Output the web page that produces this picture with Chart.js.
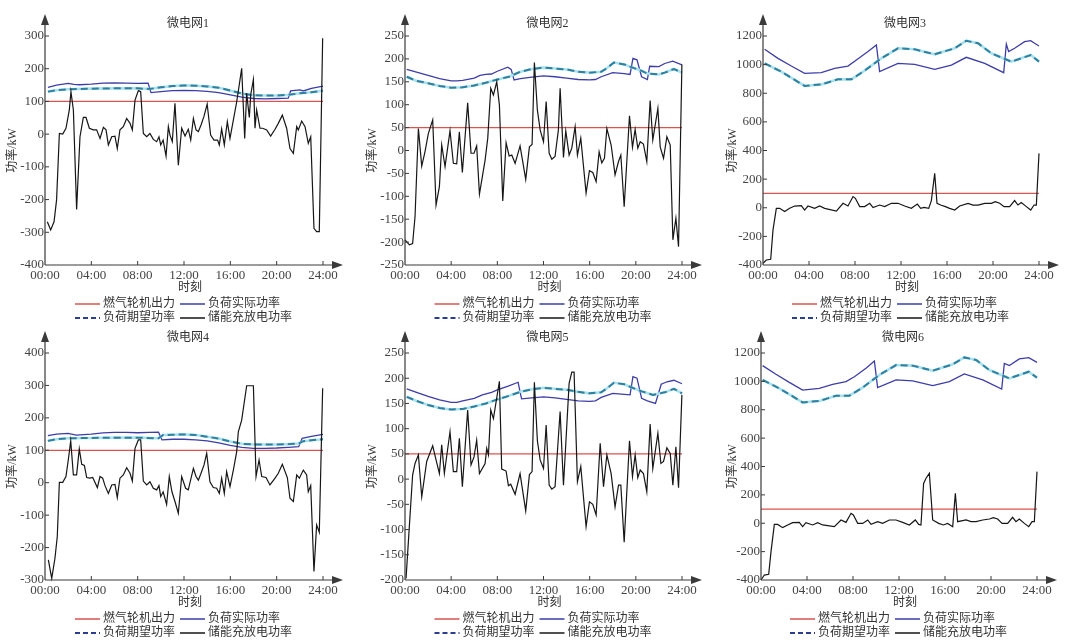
<!DOCTYPE html>
<html>
<head>
<meta charset="utf-8">
<script src="https://cdn.jsdelivr.net/npm/chart.js@4"></script>
<style>
html, body { margin: 0; padding: 0; background: #fff; }
#wrap { position: relative; width: 1080px; height: 644px; overflow: hidden; }
#wrap canvas { position: absolute; }
</style>
</head>
<body>
<div id="wrap"></div>
<script>
// [hour, kW] pairs
const legendNames = ['燃气轮机出力', '负荷实际功率', '负荷期望功率', '储能充放电功率'];
const xTicks = [0, 4, 8, 12, 16, 20, 24];

const gas1 = [[0, 100], [24, 100]];
const gas2 = [[0, 50], [24, 50]];
const gas3 = [[0, 100], [24, 100]];
const gas4 = [[0, 100], [24, 100]];
const gas5 = [[0, 50], [24, 50]];
const gas6 = [[0, 100], [24, 100]];

const load1 = [[0.25,143],[1,150],[2,155],[2.5,152],[3,151],[4,153],[5,156],[6,157],[7,156],[8,155],[8.9,156],[9.15,127],[10,130],[11,133],[12,134],[13,133],[14,131],[15,127],[16,120],[17,113],[18,109],[19,108],[20,109],[21,110],[21.2,132],[22,135],[22.3,132],[23,140],[24,147]];
const exp1 = [[0.25,130],[1,134],[2,137],[4,139],[6,140],[8,140],[9,138],[10,143],[11,147],[12,149],[13,148],[14,146],[15,142],[16,133],[17,124],[18,119],[19,118],[20,118],[21,120],[22,125],[23,128],[24,133]];
const ess1 = [[0.2,-268],[0.49,-293],[0.78,-268],[1.0,-201],[1.24,2],[1.53,0],[1.81,18],[2.1,74],[2.24,130],[2.45,74],[2.73,-230],[3.02,-8],[3.31,51],[3.54,51],[3.83,18],[4.17,13],[4.46,13],[4.75,-13],[5.04,21],[5.27,13],[5.47,-33],[5.76,-8],[6.04,-6],[6.24,-44],[6.47,13],[6.76,23],[7.05,48],[7.34,33],[7.54,13],[7.77,104],[8.06,133],[8.26,130],[8.49,2],[8.78,-8],[9.06,2],[9.35,-16],[9.64,-23],[9.84,-8],[9.99,-33],[10.2,-18],[10.45,-67],[10.65,23],[10.79,-3],[10.99,-23],[11.22,94],[11.51,-95],[11.8,18],[12.09,-6],[12.37,15],[12.58,-18],[12.81,48],[13.04,13],[13.24,8],[13.47,28],[13.73,55],[14.0,92],[14.3,-3],[14.59,-18],[14.9,-18],[15.05,-33],[15.25,16],[15.48,-33],[15.74,38],[15.97,-13],[16.26,43],[16.55,99],[16.83,165],[16.98,201],[17.24,-13],[17.41,125],[17.64,51],[17.76,120],[17.99,167],[18.13,18],[18.27,74],[18.56,18],[18.79,18],[19.14,13],[19.48,-6],[19.86,15],[20.14,33],[20.49,58],[20.86,18],[21.15,-44],[21.44,-59],[21.73,23],[21.87,13],[22.16,40],[22.45,23],[22.73,-28],[22.94,-8],[23.22,-288],[23.45,-298],[23.68,-298],[23.97,293]];

const load2 = [[0.15,177],[1,171],[2,164],[3,157],[4,152],[4.5,152],[5,153],[6,158],[6.5,164],[7,166],[7.5,167],[8,173],[8.9,182],[9.2,177],[9.45,154],[10,157],[11,160],[12,163],[13,161],[14,158],[15,155],[16,154],[16.5,155],[17,161],[18,170],[19,168],[19.5,166],[19.75,201],[20.1,198],[20.5,161],[21,155],[21.2,184],[22,183],[22.5,190],[23.2,195],[24,187]];
const exp2 = [[0.15,161],[1,152],[2,147],[3,141],[4,137],[5,138],[6,142],[7,148],[8,155],[9,161],[10,172],[11,178],[12,181],[13,179],[14,177],[15,172],[16,170],[17,172],[17.5,180],[18.1,192],[19,188],[19.5,183],[20.5,174],[21,168],[22,166],[22.5,170],[23.3,178],[24,170]];
const ess2 = [[0.0,-195],[0.38,-206],[0.66,-203],[0.87,-144],[1.16,48],[1.45,-34],[1.73,-3],[2.02,37],[2.4,67],[2.69,-119],[2.98,-79],[3.18,12],[3.47,-35],[3.9,43],[4.19,-28],[4.48,-29],[4.71,41],[4.97,-48],[5.43,104],[5.72,-6],[5.98,-6],[6.21,10],[6.45,-95],[6.94,-21],[7.17,27],[7.43,136],[7.66,121],[7.95,150],[8.18,99],[8.47,-110],[8.76,17],[9.02,-12],[9.25,-10],[9.54,-28],[9.97,10],[10.46,-63],[10.78,8],[11.01,13],[11.21,192],[11.47,88],[11.71,45],[12.0,19],[12.23,107],[12.49,-6],[12.72,-19],[13.0,-13],[13.29,45],[13.44,136],[13.73,-15],[13.93,43],[14.22,-10],[14.45,5],[14.74,52],[14.94,-10],[15.23,27],[15.69,-93],[15.98,-44],[16.27,-48],[16.56,-68],[16.82,-3],[17.05,-27],[17.28,-17],[17.49,48],[17.86,12],[18.2,-53],[18.5,-24],[18.7,-10],[18.99,-123],[19.45,76],[19.71,7],[19.94,46],[20.17,5],[20.38,19],[20.66,14],[20.95,-24],[21.24,109],[21.47,23],[21.91,92],[22.11,8],[22.4,-17],[22.69,30],[22.98,12],[23.21,-195],[23.47,-148],[23.7,-210],[23.99,188]];

const load3 = [[0.14,1107],[1.3,1044],[2.46,990],[3.62,939],[5.07,944],[6.23,974],[7.39,990],[8.12,1032],[9.13,1091],[9.86,1137],[10.14,951],[11.74,1009],[13.19,1002],[14.93,967],[16.38,997],[17.68,1051],[19.28,1009],[20.93,944],[21.16,1144],[21.36,1091],[21.88,1114],[22.75,1160],[23.28,1167],[23.62,1149],[24,1130]];
const exp3 = [[0.14,1009],[1.59,951],[3.62,851],[5.07,862],[6.52,897],[7.68,897],[8.84,958],[10.29,1044],[11.74,1114],[13.19,1107],[14.93,1072],[16.67,1114],[17.68,1167],[18.7,1149],[19.86,1079],[21.59,1021],[22.46,1044],[23.28,1067],[24,1021]];
const ess3 = [[0.0,-388],[0.29,-365],[0.67,-360],[0.87,-155],[1.16,-4],[1.45,-4],[1.88,-27],[2.32,-4],[2.75,12],[3.33,15],[3.62,-16],[3.91,12],[4.49,-4],[4.93,12],[5.36,-4],[6.38,-23],[6.96,31],[7.39,12],[7.83,78],[8.03,66],[8.41,8],[8.84,8],[9.28,31],[9.57,1],[10.14,19],[10.58,8],[11.16,31],[11.74,31],[12.32,12],[12.9,-4],[13.42,26],[13.71,-4],[14.0,3],[14.41,-4],[14.64,50],[14.93,240],[15.13,31],[15.45,19],[15.86,8],[16.23,-4],[16.67,-16],[17.1,12],[17.83,31],[18.26,19],[18.7,19],[19.28,31],[19.86,31],[20.2,43],[20.58,31],[20.96,8],[21.45,8],[21.88,50],[22.17,19],[22.46,36],[22.9,8],[23.28,-16],[23.57,19],[23.77,19],[24.0,380]];

const load4 = [[0.25,145],[1,150],[2,152],[2.7,147],[4,150],[5,154],[6,155],[7,155],[8,154],[9,155],[9.8,156],[10.1,132],[11,134],[12,134],[13,132],[14,129],[15,123],[16,115],[17,109],[18,106],[19,106],[20,107],[21,109],[21.9,111],[22.2,137],[23,143],[24,149]];
const exp4 = [[0.25,129],[1,134],[2,137],[4,138],[6,139],[8,139],[9.8,137],[10.2,147],[11,148],[12,149],[13,147],[14,142],[15,136],[16,127],[17,120],[18,118],[19,118],[20,118],[21,119],[21.9,121],[22.3,128],[23,131],[24,134]];
const ess4 = [[0.29,-238],[0.58,-295],[0.86,-233],[1.06,-166],[1.24,1],[1.53,1],[1.81,19],[2.01,70],[2.22,129],[2.45,24],[2.73,24],[2.96,104],[3.17,57],[3.4,53],[3.6,16],[3.88,14],[4.12,16],[4.32,1],[4.52,-15],[4.75,19],[4.98,14],[5.18,-9],[5.47,-33],[5.76,-7],[6.04,-5],[6.24,-46],[6.47,14],[6.76,24],[7.05,46],[7.34,29],[7.54,5],[7.77,106],[8.06,132],[8.26,132],[8.49,5],[8.78,-7],[9.06,3],[9.35,-17],[9.64,-22],[9.84,-9],[9.99,-43],[10.2,-28],[10.5,-67],[10.73,19],[10.96,-28],[11.22,-58],[11.51,-94],[11.8,19],[12.14,-17],[12.37,-22],[12.81,44],[13.04,19],[13.24,8],[13.47,29],[13.73,55],[13.96,91],[14.24,3],[14.53,-15],[14.82,-17],[15.05,-33],[15.25,14],[15.48,-33],[15.68,34],[15.97,-12],[16.26,39],[16.55,96],[16.69,157],[16.98,193],[17.41,299],[17.99,299],[18.22,19],[18.48,70],[18.71,19],[19.08,16],[19.42,-7],[19.86,14],[20.14,29],[20.49,57],[20.92,16],[21.15,-48],[21.44,-58],[21.73,24],[21.96,14],[22.3,39],[22.59,24],[22.73,-28],[22.94,-9],[23.22,-274],[23.45,-130],[23.68,-153],[23.97,291]];

const load5 = [[0.15,179],[1,172],[2,164],[3,157],[4,152],[4.5,152],[5,155],[6,160],[6.7,167],[7.5,172],[8,177],[9,185],[9.8,192],[10.1,159],[11,161],[12,163],[13,161],[14,158],[15,155],[16,154],[16.5,155],[17,162],[18,170],[19,168],[19.5,167],[19.75,203],[20.1,200],[20.5,160],[21,155],[21.7,150],[22.2,188],[22.7,193],[23.3,196],[24,189]];
const exp5 = [[0.15,163],[1,155],[2,147],[3,141],[4,138],[5,139],[6,144],[7,150],[8,158],[9,165],[10,173],[11,178],[12,181],[13,179],[14,177],[15,173],[16,170],[17,172],[17.5,180],[18.1,191],[19,188],[19.5,183],[20.5,174],[21.5,167],[22.5,172],[23.3,179],[24,170]];
const ess5 = [[0.09,-197],[0.66,8],[0.87,31],[1.16,48],[1.45,-35],[1.88,35],[2.4,66],[2.69,38],[2.98,11],[3.18,68],[3.41,11],[3.9,94],[4.19,15],[4.48,15],[4.71,81],[4.97,-15],[5.43,137],[5.72,28],[5.98,44],[6.21,77],[6.45,11],[6.94,31],[7.08,61],[7.23,48],[7.43,137],[7.66,120],[8.18,194],[8.38,20],[8.76,16],[8.96,-13],[9.16,-10],[9.54,-30],[9.97,11],[10.46,-63],[10.78,9],[11.01,15],[11.21,192],[11.47,76],[11.71,38],[12.0,21],[12.23,107],[12.49,-12],[12.72,-20],[13.0,-15],[13.44,134],[13.73,-12],[13.93,69],[14.22,190],[14.45,212],[14.65,212],[14.94,-5],[15.23,25],[15.69,-94],[15.98,-45],[16.27,-50],[16.56,-71],[16.91,71],[17.2,-15],[17.49,48],[17.86,11],[18.2,-55],[18.5,-12],[18.7,-12],[18.99,-125],[19.45,76],[19.71,5],[19.94,48],[20.17,3],[20.38,18],[20.66,11],[20.95,-25],[21.24,109],[21.47,21],[21.91,91],[22.17,31],[22.4,35],[22.69,62],[22.98,51],[23.21,-12],[23.47,64],[23.7,-17],[23.99,167]];

const load6 = [[0.14,1111],[1.3,1050],[2.46,993],[3.62,939],[5.07,951],[6.23,979],[7.39,998],[8.12,1033],[9.13,1092],[9.86,1144],[10.14,956],[11.74,1010],[13.19,1003],[14.93,970],[16.38,998],[17.68,1052],[19.28,1010],[20.93,946],[21.16,1127],[21.6,1111],[22.46,1158],[23.28,1167],[24,1134]];
const exp6 = [[0.14,1010],[1.59,951],[3.62,852],[5.07,862],[6.52,899],[7.68,899],[8.84,956],[10.29,1045],[11.74,1115],[13.19,1111],[14.93,1075],[16.67,1120],[17.68,1169],[18.7,1151],[19.86,1080],[21.59,1021],[22.46,1045],[23.28,1068],[24,1026]];
const ess6 = [[0.0,-400],[0.29,-365],[0.67,-360],[0.87,-200],[1.16,-8],[1.45,-8],[1.88,-31],[2.32,-12],[2.75,4],[3.33,6],[3.62,-24],[3.91,4],[4.49,-12],[4.93,4],[5.36,-12],[6.38,-24],[6.96,23],[7.39,6],[7.83,70],[8.03,58],[8.41,-1],[8.84,-1],[9.28,23],[9.57,-8],[10.14,11],[10.58,-1],[11.16,23],[11.74,23],[12.32,6],[12.9,-12],[13.42,23],[13.71,-8],[13.91,-12],[14.14,281],[14.35,317],[14.64,352],[14.93,23],[15.45,-1],[15.86,-12],[16.23,-1],[16.67,-24],[16.9,211],[17.1,11],[17.83,23],[18.26,11],[18.7,11],[19.28,23],[19.86,30],[20.2,39],[20.58,30],[20.96,-1],[21.45,-1],[21.88,42],[22.17,11],[22.46,30],[22.9,-1],[23.28,-24],[23.57,11],[23.77,11],[24.0,364]];

// panel frames (pixels) and axis ranges
const panels = [
    { name: '微电网1', x0: 0,   y0: 0,   h: 330, left: 45, right: 323, top: 36, bottom: 265, titleY: 24, yMin: -400, yMax: 300,  yStep: 100, gas: gas1, load: load1, exp: exp1, ess: ess1 },
    { name: '微电网2', x0: 360, y0: 0,   h: 330, left: 45, right: 322, top: 36, bottom: 265, titleY: 24, yMin: -250, yMax: 250,  yStep: 50,  gas: gas2, load: load2, exp: exp2, ess: ess2 },
    { name: '微电网3', x0: 720, y0: 0,   h: 330, left: 43, right: 319, top: 36, bottom: 265, titleY: 24, yMin: -400, yMax: 1200, yStep: 200, gas: gas3, load: load3, exp: exp3, ess: ess3 },
    { name: '微电网4', x0: 0,   y0: 330, h: 314, left: 45, right: 323, top: 23, bottom: 250, titleY: 8,  yMin: -300, yMax: 400,  yStep: 100, gas: gas4, load: load4, exp: exp4, ess: ess4 },
    { name: '微电网5', x0: 360, y0: 330, h: 314, left: 45, right: 322, top: 23, bottom: 250, titleY: 8,  yMin: -200, yMax: 250,  yStep: 50,  gas: gas5, load: load5, exp: exp5, ess: ess5 },
    { name: '微电网6', x0: 720, y0: 330, h: 314, left: 41, right: 317, top: 23, bottom: 250, titleY: 8,  yMin: -400, yMax: 1200, yStep: 200, gas: gas6, load: load6, exp: exp6, ess: ess6 }
];

const FONT = '"Liberation Serif", "Noto Sans CJK SC", serif';
Chart.defaults.font.family = FONT;

const RED = '#d9534f', BLUE = '#3d3da8', NAVY = '#2c3f8e', TEAL = '#2f7f9f', CYAN = '#a6e2f0', BLACK = '#161616';

const toXY = arr => arr.map(([x, y]) => ({ x, y }));
const hhmm = v => String(v).padStart(2, '0') + ':00';

function decor(p) {
    return {
        id: 'decor',
        afterDraw(chart) {
            const ctx = chart.ctx, a = chart.chartArea;
            const ys = chart.scales.y, xs = chart.scales.x;
            ctx.save();
            ctx.strokeStyle = '#3a3a3a';
            ctx.fillStyle = '#3a3a3a';
            ctx.lineWidth = 1.2;

            // axes with arrows
            ctx.beginPath();
            ctx.moveTo(a.left, a.bottom); ctx.lineTo(a.left, a.top - 14);
            ctx.moveTo(a.left, a.bottom); ctx.lineTo(a.right + 12, a.bottom);
            ctx.stroke();
            ctx.beginPath();
            ctx.moveTo(a.left, a.top - 22); ctx.lineTo(a.left - 4, a.top - 11); ctx.lineTo(a.left + 4, a.top - 11); ctx.closePath();
            ctx.moveTo(a.right + 20, a.bottom); ctx.lineTo(a.right + 9, a.bottom - 4); ctx.lineTo(a.right + 9, a.bottom + 4); ctx.closePath();
            ctx.fill();

            // inward ticks
            ctx.lineWidth = 1;
            ctx.beginPath();
            for (let v = p.yMin + p.yStep; v <= p.yMax; v += p.yStep) {
                const y = ys.getPixelForValue(v);
                ctx.moveTo(a.left, y); ctx.lineTo(a.left + 4, y);
            }
            xTicks.slice(1).forEach(t => {
                const x = xs.getPixelForValue(t);
                ctx.moveTo(x, a.bottom); ctx.lineTo(x, a.bottom - 4);
            });
            ctx.stroke();

            // texts
            const cx = (a.left + a.right) / 2;
            ctx.fillStyle = '#333';
            ctx.font = '12px ' + FONT;
            ctx.textBaseline = 'middle';
            ctx.textAlign = 'center';
            ctx.fillText(p.name, cx + 4, p.titleY);
            ctx.fillText('时刻', cx + 6, a.bottom + 23);
            ctx.save();
            ctx.translate(13, (a.top + a.bottom) / 2);
            ctx.rotate(-Math.PI / 2);
            ctx.fillText('功率/kW', 0, 0);
            ctx.restore();

            // legend, two columns
            const items = [
                [legendNames[0], RED, []],
                [legendNames[1], BLUE, []],
                [legendNames[2], NAVY, [5, 3]],
                [legendNames[3], BLACK, []]
            ];
            ctx.textAlign = 'left';
            items.forEach(([txt, col, dash], i) => {
                const x0 = cx + (i % 2 === 0 ? -109 : -4);
                const y = a.bottom + (i < 2 ? 39 : 53);
                ctx.strokeStyle = col;
                ctx.lineWidth = dash.length ? 2 : 1.5;
                ctx.setLineDash(dash);
                ctx.beginPath();
                ctx.moveTo(x0, y); ctx.lineTo(x0 + 25, y);
                ctx.stroke();
                ctx.setLineDash([]);
                ctx.fillStyle = '#333';
                ctx.fillText(txt, x0 + 28, y);
            });
            ctx.restore();
        }
    };
}

const wrap = document.getElementById('wrap');

panels.forEach(p => {
    const cv = document.createElement('canvas');
    cv.width = 360; cv.height = p.h;
    cv.style.left = p.x0 + 'px'; cv.style.top = p.y0 + 'px';
    cv.style.width = '360px'; cv.style.height = p.h + 'px';
    wrap.appendChild(cv);

    const line = { pointRadius: 0, tension: 0, fill: false, clip: false };
    new Chart(cv, {
        type: 'line',
        data: {
            datasets: [
                { ...line, data: toXY(p.ess), borderColor: BLACK, borderWidth: 1.2, order: 0 },
                { ...line, data: toXY(p.exp), borderColor: TEAL, borderWidth: 2, borderDash: [7, 4], order: 1 },
                { ...line, data: toXY(p.exp), borderColor: CYAN, borderWidth: 2.6, order: 2 },
                { ...line, data: toXY(p.load), borderColor: BLUE, borderWidth: 1.3, order: 3 },
                { ...line, data: toXY(p.gas), borderColor: RED, borderWidth: 1.3, order: 4 }
            ]
        },
        options: {
            responsive: false,
            animation: false,
            devicePixelRatio: 1,
            layout: { padding: { left: 0, top: p.top, right: 360 - p.right, bottom: 0 } },
            plugins: { legend: { display: false }, title: { display: false }, tooltip: { enabled: false } },
            scales: {
                x: {
                    type: 'linear', min: 0, max: 24,
                    grid: { display: false, drawTicks: false, tickLength: 0 }, border: { display: false },
                    afterBuildTicks: s => { s.ticks = xTicks.map(v => ({ value: v })); },
                    ticks: { padding: 3, maxRotation: 0, autoSkip: false, color: '#444', font: { size: 13 }, callback: hhmm },
                    afterFit: s => { s.height = p.h - p.bottom; }
                },
                y: {
                    min: p.yMin, max: p.yMax,
                    grid: { display: false, drawTicks: false, tickLength: 0 }, border: { display: false },
                    ticks: { stepSize: p.yStep, padding: 1, color: '#444', font: { size: 13 }, callback: v => String(v) },
                    afterFit: s => { s.width = p.left; }
                }
            }
        },
        plugins: [decor(p)]
    });
});
</script>
</body>
</html>
